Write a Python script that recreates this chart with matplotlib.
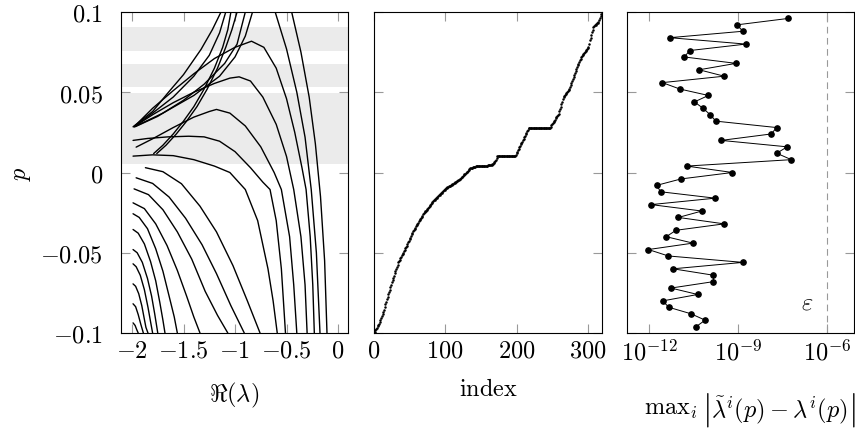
import matplotlib
matplotlib.use('Agg')
import matplotlib.pyplot as plt
import numpy as np

plt.rcParams['mathtext.fontset'] = 'cm'
plt.rcParams['font.family'] = 'serif'
plt.rcParams['font.serif'] = ['DejaVu Serif']

# ---------------- left panel: eigenvalue branches, (Re(lambda), p) pairs
lower_branches = [
    [(-1.87, 0.003), (-1.70, 0.0005), (-1.52, -0.007), (-1.34, -0.021), (-1.18, -0.037), (-1.02, -0.058), (-0.88, -0.08), (-0.757, -0.1)],
    [(-1.96, -0.0033), (-1.80, -0.0068), (-1.64, -0.0153), (-1.48, -0.0285), (-1.32, -0.045), (-1.18, -0.063), (-1.04, -0.083), (-0.91, -0.1)],
    [(-1.98, -0.0102), (-1.84, -0.0138), (-1.70, -0.0232), (-1.56, -0.037), (-1.42, -0.054), (-1.29, -0.074), (-1.17, -0.089), (-1.07, -0.1)],
    [(-1.99, -0.0189), (-1.88, -0.0225), (-1.77, -0.032), (-1.66, -0.0455), (-1.56, -0.061), (-1.47, -0.077), (-1.40, -0.09), (-1.34, -0.1)],
    [(-1.99, -0.0257), (-1.93, -0.028), (-1.85, -0.035), (-1.77, -0.0475), (-1.70, -0.0615), (-1.64, -0.077), (-1.59, -0.09), (-1.56, -0.1)],
    [(-1.99, -0.0355), (-1.94, -0.0378), (-1.88, -0.0445), (-1.82, -0.0555), (-1.77, -0.0675), (-1.73, -0.081), (-1.70, -0.092), (-1.68, -0.1)],
    [(-1.99, -0.048), (-1.95, -0.050), (-1.90, -0.056), (-1.85, -0.066), (-1.81, -0.077), (-1.78, -0.088), (-1.75, -0.1)],
    [(-1.99, -0.0569), (-1.96, -0.0587), (-1.92, -0.064), (-1.88, -0.073), (-1.845, -0.084), (-1.82, -0.093), (-1.80, -0.1)],
    [(-1.99, -0.0694), (-1.965, -0.0709), (-1.935, -0.0755), (-1.905, -0.083), (-1.88, -0.0915), (-1.865, -0.0965), (-1.845, -0.1)],
    [(-1.99, -0.0818), (-1.965, -0.0836), (-1.94, -0.0885), (-1.915, -0.0945), (-1.89, -0.1)],
    [(-1.99, -0.0937), (-1.97, -0.0953), (-1.955, -0.0978), (-1.94, -0.1)],
]

hump_branches = [
    [(-1.99, 0.0102), (-1.8, 0.011), (-1.6, 0.0105), (-1.4, 0.008), (-1.2, 0.004), (-1.05, 0.0), (-0.9, -0.0106),
     (-0.78, -0.03), (-0.68, -0.06), (-0.63, -0.08), (-0.59, -0.1)],
    [(-1.99, 0.020), (-1.85, 0.0212), (-1.65, 0.0222), (-1.45, 0.0226), (-1.3, 0.0222), (-1.15, 0.0195), (-1.0, 0.013),
     (-0.85, 0.003), (-0.73, -0.006), (-0.66, -0.0106), (-0.6, -0.03), (-0.55, -0.06), (-0.51, -0.1)],
    [(-1.96, 0.0158), (-1.8, 0.021), (-1.6, 0.028), (-1.4, 0.0345), (-1.25, 0.038), (-1.18, 0.0393), (-1.05, 0.037),
     (-0.9, 0.029), (-0.75, 0.016), (-0.62, 0.0), (-0.55, -0.0106), (-0.47, -0.04), (-0.43, -0.07), (-0.40, -0.1)],
    [(-1.98, 0.0285), (-1.8, 0.036), (-1.6, 0.0435), (-1.4, 0.050), (-1.2, 0.0555), (-1.05, 0.0588), (-0.96, 0.0596),
     (-0.85, 0.057), (-0.73, 0.047), (-0.6, 0.03), (-0.5, 0.01), (-0.43, -0.0106), (-0.36, -0.04), (-0.32, -0.07), (-0.30, -0.1)],
    [(-1.98, 0.0285), (-1.8, 0.040), (-1.6, 0.051), (-1.4, 0.0615), (-1.2, 0.071), (-1.0, 0.078), (-0.84, 0.0818),
     (-0.72, 0.078), (-0.6, 0.065), (-0.5, 0.046), (-0.42, 0.025), (-0.35, 0.003), (-0.31, -0.0106), (-0.27, -0.04),
     (-0.245, -0.07), (-0.23, -0.1)],
    [(-0.61, 0.1), (-0.5, 0.077), (-0.4, 0.05), (-0.32, 0.022), (-0.26, -0.0106), (-0.21, -0.05), (-0.175, -0.1)],
    [(-0.45, 0.1), (-0.36, 0.075), (-0.28, 0.047), (-0.22, 0.018), (-0.17, -0.015), (-0.13, -0.055), (-0.107, -0.1)],
]

rising_branches = [
    [(-1.99, 0.0285), (-1.8, 0.038), (-1.65, 0.0497), (-1.5, 0.061), (-1.33, 0.0767), (-1.22, 0.089), (-1.14, 0.0995)],
    [(-1.98, 0.0285), (-1.8, 0.037), (-1.6, 0.047), (-1.4, 0.06), (-1.25, 0.073), (-1.15, 0.087), (-1.09, 0.1)],
    [(-1.79, 0.0118), (-1.7, 0.017), (-1.6, 0.024), (-1.5, 0.032), (-1.4, 0.041), (-1.3, 0.052), (-1.2, 0.065),
     (-1.12, 0.078), (-1.07, 0.089), (-1.04, 0.1)],
    [(-1.76, 0.0118), (-1.67, 0.017), (-1.57, 0.024), (-1.47, 0.032), (-1.37, 0.041), (-1.27, 0.052), (-1.17, 0.065),
     (-1.09, 0.078), (-1.03, 0.089), (-0.98, 0.1)],
    [(-1.97, 0.0285), (-1.75, 0.035), (-1.5, 0.045), (-1.3, 0.055), (-1.1, 0.068), (-0.98, 0.08), (-0.90, 0.1)],
    [(-1.96, 0.029), (-1.7, 0.037), (-1.4, 0.048), (-1.15, 0.06), (-1.0, 0.072), (-0.9, 0.085), (-0.83, 0.1)],
]

shaded_bands = [(0.0056, 0.0497), (0.0534, 0.0673), (0.0760, 0.0904)]

# ---------------- middle panel: sorted sample parameters (units of 1e-4)
p_sorted_e4 = [
    -1000, -992, -983, -975, -967, -958, -950, -941, -933, -920, -908, -895, -883, -870, -854, -838, -821, -804, -788,
    -773, -758, -743, -729, -714, -699, -684, -670, -656, -643, -629, -615, -601, -587, -574, -560,
    -551, -543, -534, -525, -517, -508, -499, -491, -482, -473, -465, -456,
    -446, -436, -426, -416, -405, -395, -385, -375, -365,
    -358, -350, -343, -335, -328, -320, -313, -305, -298, -290, -283, -275, -268, -260,
    -254, -248, -242, -237, -231, -225, -219, -213, -207, -201, -196, -190, -184, -178,
    -174, -169, -165, -160, -156, -152, -147, -143, -139, -134, -130, -126, -121, -117, -112, -108, -104, -99, -95,
    -92, -89, -86, -83, -81, -78, -75, -72, -69, -66, -63, -60, -57, -54, -52, -49, -46, -43, -40,
    -35, -31, -26, -21, -17, -12, -8, -3, 2, 6, 11, 16, 20, 25,
    27, 28, 30, 32, 33, 35, 37, 38, 40,
    40, 40, 41, 41, 41, 41, 42, 42, 42, 42, 42, 43, 43, 43, 43, 44, 44, 44, 44, 45, 45,
    50, 55, 60, 65, 70, 80, 90, 100,
    100, 100, 100, 100, 100, 100, 100, 100, 100, 100, 100, 100,
    101, 101, 101, 101, 101, 101, 101, 101, 101, 101, 101, 101, 102,
    111, 120, 129, 138, 148, 157, 166, 175, 184, 193, 202, 211, 220, 230, 239, 248, 257, 266, 275,
    276, 276, 276, 276, 276, 276, 276, 276, 276, 276, 276, 276, 276, 276, 276,
    277, 277, 277, 277, 277, 277, 277, 277, 277, 277, 277, 277, 277, 277, 278,
    285, 293, 300, 308, 315, 323, 330, 337, 345, 352, 360, 367,
    382, 396, 411, 426, 441, 455, 470,
    477, 483, 490, 497, 503, 510, 517, 523, 530,
    543, 556, 569, 582, 595, 608, 621, 634, 647,
    657, 668, 678, 689, 699, 710, 720,
    726, 732, 738, 744, 750, 756, 762, 768, 774, 780,
    801, 823, 840, 857, 873, 890, 907,
    911, 916, 920, 925, 929, 934, 938,
    950, 963, 975, 988, 1000,
]

# ---------------- right panel: max eigenvalue error per p (log10)
p_check = [0.096, 0.092, 0.088, 0.084, 0.080, 0.076, 0.072, 0.068, 0.064, 0.060, 0.056, 0.052, 0.048, 0.044, 0.040,
           0.036, 0.032, 0.028, 0.024, 0.020, 0.016, 0.012, 0.008, 0.004, 0.000, -0.004, -0.008, -0.012, -0.016,
           -0.020, -0.024, -0.028, -0.032, -0.036, -0.040, -0.044, -0.048, -0.052, -0.056, -0.060, -0.064, -0.068,
           -0.072, -0.076, -0.080, -0.084, -0.088, -0.092, -0.096]
err_log10 = [-7.31, -9.04, -8.84, -11.30, -8.74, -10.62, -10.82, -9.07, -10.31, -9.47, -11.55, -10.96, -10.00, -10.47,
             -10.18, -9.94, -9.75, -7.70, -7.89, -9.57, -7.35, -7.70, -7.21, -10.73, -9.19, -10.92, -11.74, -11.61,
             -9.77, -11.93, -10.22, -11.01, -9.47, -11.09, -11.42, -10.52, -12.02, -11.35, -8.84, -11.19, -9.83,
             -9.83, -11.26, -10.36, -11.54, -11.33, -10.59, -10.11, -10.41]
tolerance = 1e-6

fig = plt.figure(figsize=(8.55, 4.31), dpi=100)
ax1 = fig.add_axes([121/855, 97/431, 227/855, 321/431])
ax2 = fig.add_axes([374/855, 97/431, 228/855, 321/431])
ax3 = fig.add_axes([627/855, 97/431, 227/855, 321/431])

fs = 17.5
for ax in (ax1, ax2, ax3):
    ax.set_ylim(-0.1, 0.1)
    ax.set_yticks([-0.1, -0.05, 0, 0.05, 0.1])
    ax.tick_params(direction='in', length=6.5, width=0.8, color='0.6', top=True, right=True,
                   labelsize=fs)
    ax.tick_params(axis='x', pad=4)
    ax.tick_params(axis='y', pad=13)
    for s in ax.spines.values():
        s.set_linewidth(0.8)

ax1.set_yticklabels([r'$-0.1$', r'$-0.05$', r'$0$', r'$0.05$', r'$0.1$'])
ax2.set_yticklabels([])
ax3.set_yticklabels([])

# left
for lo, hi in shaded_bands:
    ax1.axhspan(lo, hi, color='#ebebeb', lw=0, zorder=0)
for group in (lower_branches, hump_branches, rising_branches):
    for br in group:
        xs = [q[0] for q in br]
        ps = [q[1] for q in br]
        ax1.plot(xs, ps, color='black', lw=1.0, solid_capstyle='round')
ax1.set_xlim(-2.107, 0.097)
ax1.set_xticks([-2, -1.5, -1, -0.5, 0])
ax1.set_xticklabels([r'$-2$', r'$-1.5$', r'$-1$', r'$-0.5$', r'$0$'])
ax1.set_xlabel(r'$\Re(\lambda)$', fontsize=fs, labelpad=13)
ax1.set_ylabel(r'$p$', fontsize=fs, labelpad=5)

# middle
p_sorted = np.array(p_sorted_e4) / 1e4
ax2.plot(np.arange(len(p_sorted)), p_sorted, ls='none', marker='o', ms=1.8, color='black', mew=0)
ax2.set_xlim(0, 320)
ax2.set_xticks([0, 100, 200, 300])
ax2.set_xticklabels([r'$0$', r'$100$', r'$200$', r'$300$'])
ax2.set_xlabel(r'$\mathrm{index}$', fontsize=fs, labelpad=11)

# right
err = 10.0 ** np.array(err_log10)
ax3.set_xscale('log')
ax3.plot(err, p_check, color='black', lw=0.7, marker='o', ms=3.8)
ax3.axvline(tolerance, color='0.6', lw=0.8, ls=(0, (6, 4)))
ax3.text(10 ** -6.685, -0.0808, r'$\varepsilon$', fontsize=fs, ha='center', va='center')
ax3.set_xlim(10 ** -12.74, 10 ** -5.1)
ax3.set_xticks([1e-12, 1e-9, 1e-6])
ax3.set_xticklabels([r'$10^{-12}$', r'$10^{-9}$', r'$10^{-6}$'])
ax3.xaxis.set_minor_locator(matplotlib.ticker.NullLocator())

# x label of right panel built from pieces so the bars can be tall
renderer = fig.canvas.get_renderer()
pieces = [(r'$\mathrm{max}_i$', fs, 5), (r'$|$', 25, 1), (r'$\tilde{\lambda}^i(p)-\lambda^i(p)$', fs, 1), (r'$|$', 25, 0)]
y_lab = 1 - 410 / 431
texts = []
widths = []
for s, size, gap in pieces:
    t = fig.text(0, y_lab, s, fontsize=size, ha='left', va='center')
    texts.append(t)
    widths.append(t.get_window_extent(renderer).width + gap)
x_px = 750 - sum(widths) / 2
for t, w in zip(texts, widths):
    t.set_x(x_px / 855)
    x_px += w

fig.savefig('out.png', dpi=100)
